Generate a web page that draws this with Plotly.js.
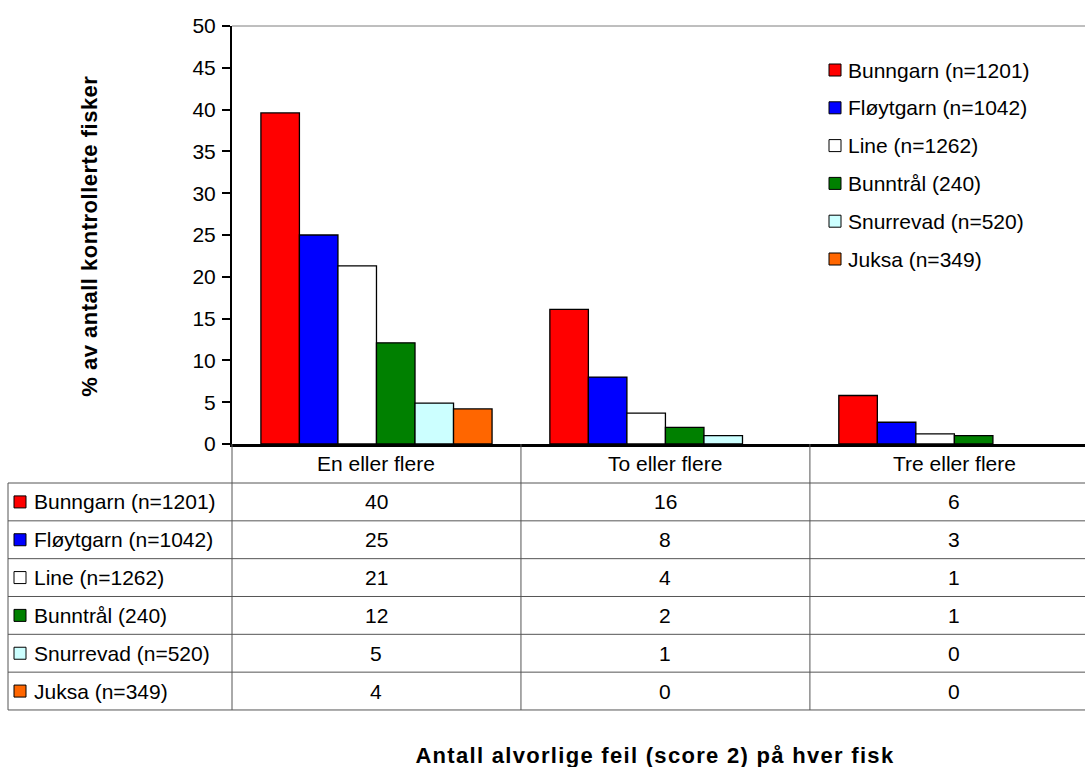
<!DOCTYPE html>
<html>
<head>
<meta charset="utf-8">
<script src="https://cdn.plot.ly/plotly-3.0.1.min.js"></script>
<style>
  html, body { margin: 0; padding: 0; background: #ffffff; }
  #chart { width: 1085px; height: 767px; }
</style>
</head>
<body>
<div id="chart"></div>
<script>
// ---- DATA ----
const categories = ['En eller flere', 'To eller flere', 'Tre eller flere'];
const seriesNames = ['Bunngarn (n=1201)', 'Fløytgarn (n=1042)', 'Line (n=1262)', 'Bunntrål (240)', 'Snurrevad (n=520)', 'Juksa (n=349)'];
const bunngarn  = [39.6, 16.1, 5.8];
const floytgarn = [25.0, 8.0, 2.6];
const line      = [21.3, 3.7, 1.2];
const bunntral  = [12.1, 2.0, 1.0];
const snurrevad = [4.9, 1.0, 0];
const juksa     = [4.2, 0, 0];
const yTicks = [0, 5, 10, 15, 20, 25, 30, 35, 40, 45, 50];
const yTitle = '% av antall kontrollerte fisker';
const xTitle = 'Antall alvorlige feil (score 2) på hver fisk';

// ---- STYLE ----
const seriesColors = ['#FF0000', '#0000FF', '#FFFFFF', '#008000', '#CCFFFF', '#FF6600'];
const allSeries = [bunngarn, floytgarn, line, bunntral, snurrevad, juksa];
const FONT = '"Liberation Sans", Arial, sans-serif';
const FS = 21;

// geometry helpers (pixel -> paper) for a plot area of x 232..1085, y 26..444
const L = 232, T = 26, W = 1085 - 232, H = 444 - 26;
const px = p => (p - L) / W;
const py = p => (T + H - p) / H;

const traces = allSeries.map((vals, i) => ({
  type: 'bar',
  name: seriesNames[i],
  x: categories,
  y: vals,
  marker: { color: seriesColors[i], line: { color: '#000000', width: vals.map(v => v > 0 ? 1.3 : 0) } },
  hoverinfo: 'x+y+name',
  showlegend: false
}));

const shapes = [];
const annotations = [];
const txtFont = { family: FONT, size: FS, color: '#000000' };

// top frame line
shapes.push({ type: 'line', xref: 'paper', yref: 'paper', x0: 0, x1: 1, y0: 1, y1: 1,
  line: { color: '#7f7f7f', width: 1 } });

// ---- in-plot legend ----
const legTop = 70, legStep = 37.8;
seriesNames.forEach((n, i) => {
  const cy = legTop + i * legStep;
  shapes.push({ type: 'rect', xref: 'paper', yref: 'paper',
    x0: px(829), x1: px(841), y0: py(cy - 6), y1: py(cy + 6),
    fillcolor: seriesColors[i], line: { color: '#000000', width: 1 } });
  annotations.push({ xref: 'paper', yref: 'paper', x: px(846), y: py(cy),
    xanchor: 'left', yanchor: 'middle', showarrow: false, text: n, font: txtFont });
});

// ---- data table ----
const gridColor = '#555555';
const rowTop = 483, rowH = 37.83, tableBottom = rowTop + rowH * seriesNames.length;
for (let r = 0; r <= seriesNames.length; r++) {
  const y = rowTop + r * rowH;
  shapes.push({ type: 'line', xref: 'paper', yref: 'paper', x0: px(8), x1: 1.0,
    y0: py(y), y1: py(y), line: { color: gridColor, width: 1 } });
}
shapes.push({ type: 'line', xref: 'paper', yref: 'paper', x0: px(8), x1: px(8),
  y0: py(rowTop), y1: py(tableBottom), line: { color: gridColor, width: 1 } });
shapes.push({ type: 'line', xref: 'paper', yref: 'paper', x0: 0, x1: 0,
  y0: py(444), y1: py(tableBottom), line: { color: gridColor, width: 1 } });
for (let c = 0; c < categories.length - 1; c++) {
  shapes.push({ type: 'line', xref: 'x', yref: 'paper', x0: c + 0.5, x1: c + 0.5,
    y0: py(444), y1: py(tableBottom), line: { color: gridColor, width: 1 } });
}
categories.forEach((cat, c) => {
  annotations.push({ xref: 'x', yref: 'paper', x: c, y: py((444 + rowTop) / 2),
    xanchor: 'center', yanchor: 'middle', showarrow: false, text: cat, font: txtFont });
});
seriesNames.forEach((n, i) => {
  const cy = rowTop + (i + 0.5) * rowH;
  shapes.push({ type: 'rect', xref: 'paper', yref: 'paper',
    x0: px(14), x1: px(26), y0: py(cy - 6), y1: py(cy + 6),
    fillcolor: seriesColors[i], line: { color: '#000000', width: 1 } });
  annotations.push({ xref: 'paper', yref: 'paper', x: px(32), y: py(cy),
    xanchor: 'left', yanchor: 'middle', showarrow: false, text: n, font: txtFont });
  allSeries[i].forEach((v, c) => {
    annotations.push({ xref: 'x', yref: 'paper', x: c, y: py(cy),
      xanchor: 'center', yanchor: 'middle', showarrow: false, text: String(Math.round(v)), font: txtFont });
  });
});

// axis titles
const titleFont = { family: FONT, size: 22, color: '#000000' };
annotations.push({ xref: 'paper', yref: 'paper', x: px(89), y: py(236),
  xanchor: 'center', yanchor: 'middle', showarrow: false, textangle: -90,
  text: '<b>' + yTitle + '</b>', font: titleFont });
annotations.push({ xref: 'paper', yref: 'paper', x: px(655), y: py(755),
  xanchor: 'center', yanchor: 'middle', showarrow: false,
  text: '<b>' + xTitle + '</b>', font: titleFont });

const layout = {
  width: 1085, height: 767,
  margin: { l: L, r: 0, t: T, b: 767 - 444, pad: 0 },
  paper_bgcolor: '#ffffff', plot_bgcolor: '#ffffff',
  barmode: 'group', bargap: 0.2, bargroupgap: 0,
  showlegend: false,
  font: { family: FONT, size: FS, color: '#000000' },
  xaxis: {
    type: 'category', range: [-0.5, 2.452], showticklabels: false, ticks: '',
    showgrid: false, zeroline: false, showline: true, linecolor: '#000000', linewidth: 3,
    fixedrange: true
  },
  yaxis: {
    range: [0, 50], tickvals: yTicks, ticktext: yTicks.map(String),
    ticks: 'outside', ticklen: 8, tickwidth: 2, tickcolor: '#000000',
    showgrid: false, zeroline: false, showline: true, linecolor: '#000000', linewidth: 2,
    tickfont: { family: FONT, size: FS, color: '#000000' }, ticklabelstandoff: 2,
    fixedrange: true
  },
  shapes: shapes,
  annotations: annotations
};

Plotly.newPlot('chart', traces, layout, { displayModeBar: false }).then(gd => {
  // slightly wider letter spacing for the bold axis titles, as in the original
  gd.querySelectorAll('.annotation-text').forEach(t => {
    const s = t.textContent;
    if (s === yTitle) t.style.letterSpacing = '0.5px';
    if (s === xTitle) t.style.letterSpacing = '1.3px';
  });
});
</script>
</body>
</html>
